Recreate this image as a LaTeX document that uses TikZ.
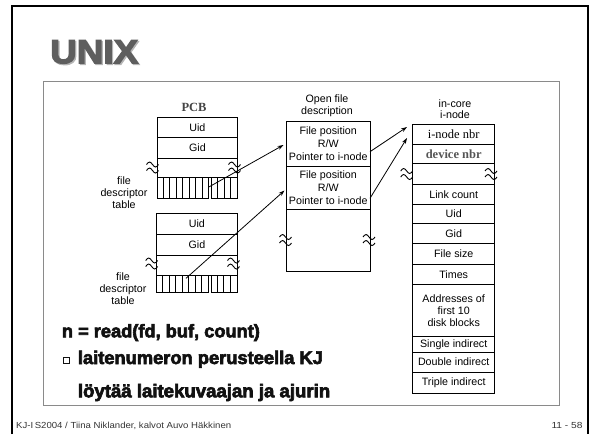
\documentclass[tikz,border=0pt]{standalone}
\usepackage{fontspec}
\setmainfont{Liberation Sans}
\newfontfamily\serifface{Liberation Serif}
\newfontfamily\heavyface[FakeBold=3.5]{Liberation Sans Bold}
\usetikzlibrary{arrows.meta}
\definecolor{titlegray}{HTML}{5E5E5E}
\definecolor{shadowgray}{HTML}{B5B5B5}
\definecolor{framegray}{HTML}{8A8A8A}
\definecolor{devgray}{HTML}{555555}
\definecolor{pcbgray}{HTML}{444444}
\definecolor{footgray}{HTML}{333333}
\definecolor{textdark}{HTML}{111111}
\tikzset{
  wv/.pic={
    \draw[line width=0.9pt] (-6,-3) sin (-3,-5.5) cos (0,-3) sin (3,-0.5) cos (6,-3);
    \draw[line width=0.9pt] (-6,3) sin (-3,0.5) cos (0,3) sin (3,5.5) cos (6,3);
  },
  box/.style={draw, line width=0.8pt, inner sep=0pt, anchor=north west, align=center,
    font=\fontsize{10.7}{12.8}\selectfont},
  lbl/.style={inner sep=0pt, align=center, font=\fontsize{10.7}{12}\selectfont},
  ptr/.style={line width=0.8pt, -{Stealth[length=6pt,width=4pt]}},
  cellline/.style={line width=0.7pt},
  big/.style={inner sep=0pt, anchor=base west, text=textdark, font=\heavyface\fontsize{18.2}{20}\selectfont}
}
\begin{document}
\begin{tikzpicture}[x=1pt,y=-1pt]
\useasboundingbox (0,0) rectangle (593,434);
% slide frames
\draw[line width=2pt] (11.5,434) -- (11.5,6) -- (587.7,6) -- (587.7,434);
\draw[framegray, line width=0.9pt] (43.3,81) rectangle (559,405.7);
% title
\node[anchor=north west, inner sep=0pt, text=shadowgray] (titsh) at (51.3,41.3) {\resizebox{88pt}{23pt}{\heavyface UNIX}};
\node[anchor=north west, inner sep=0pt, text=titlegray] (title) at (50,40) {\resizebox{88pt}{23pt}{\heavyface UNIX}};

% PCB 1
\node[inner sep=0pt, text=pcbgray, font=\serifface\bfseries\fontsize{12.5}{14}\selectfont] (pcb) at (194,107.7) {PCB};
\node[box, minimum width=80.6pt, minimum height=20pt] (uid1) at (156.7,117.3) {Uid};
\node[box, minimum width=80.6pt, minimum height=20.4pt] (gid1) at (156.7,137.3) {Gid};
\node[box, minimum width=80.6pt, minimum height=19.6pt] (gap1) at (156.7,157.7) {};
\node[box, minimum width=51.6pt, minimum height=21pt] (fdl1) at (156.7,177.3) {};
\node[box, minimum width=26.6pt, minimum height=21pt] (fdr1) at (210.7,177.3) {};
\foreach \i in {1,...,7} \draw[cellline] (156.7+\i*6.45,177.3) -- (156.7+\i*6.45,198.3);
\foreach \i in {1,...,3} \draw[cellline] (210.7+\i*6.65,177.3) -- (210.7+\i*6.65,198.3);
\pic at (152.5,167.5) {wv};
\pic at (234.5,167.5) {wv};
\node[lbl] (fdt1) at (124,192.3) {file\\descriptor\\table};

% PCB 2
\node[box, minimum width=80.6pt, minimum height=21pt] (uid2) at (156.2,213) {Uid};
\node[box, minimum width=80.6pt, minimum height=20.5pt] (gid2) at (156.2,234) {Gid};
\node[box, minimum width=80.6pt, minimum height=20.5pt] (gap2) at (156.2,254.5) {};
\node[box, minimum width=51.8pt, minimum height=16.7pt] (fdl2) at (156.2,275) {};
\node[box, minimum width=26.2pt, minimum height=16.7pt] (fdr2) at (210.6,275) {};
\foreach \i in {1,...,7} \draw[cellline] (156.2+\i*6.475,275) -- (156.2+\i*6.475,291.7);
\foreach \i in {1,...,3} \draw[cellline] (210.6+\i*6.55,275) -- (210.6+\i*6.55,291.7);
\pic at (151.7,263.5) {wv};
\pic at (233.5,263.5) {wv};
\node[lbl] (fdt2) at (123,288.3) {file\\descriptor\\table};

% Open file description
\node[lbl, font=\fontsize{10.7}{11.8}\selectfont] (oflbl) at (327,106) {Open file\\description};
\node[box, minimum width=84.3pt, minimum height=45pt] (of1) at (285.7,120.7) {File position\\R/W\\Pointer to i-node};
\node[box, minimum width=84.3pt, minimum height=43.6pt] (of2) at (285.7,165.7) {File position\\R/W\\Pointer to i-node};
\node[box, minimum width=84.3pt, minimum height=61.7pt] (of3) at (285.7,209.3) {};
\pic at (285.5,240) {wv};
\pic at (369,240) {wv};

% in-core i-node
\node[lbl, font=\fontsize{10.7}{11}\selectfont] (inlbl) at (455,108.8) {in-core\\i-node};
\node[box, minimum width=82pt, minimum height=20pt, font=\serifface\fontsize{12.5}{14}\selectfont] (in1) at (412.3,124.3) {i-node nbr};
\node[box, minimum width=82pt, minimum height=19pt, text=devgray, font=\serifface\bfseries\fontsize{12.5}{14}\selectfont] (in2) at (412.3,144.3) {device nbr};
\node[box, minimum width=82pt, minimum height=20.7pt] (in3) at (412.3,163.3) {};
\node[box, minimum width=82pt, minimum height=20pt] (in4) at (412.3,184) {Link count};
\node[box, minimum width=82pt, minimum height=19.3pt] (in5) at (412.3,204) {Uid};
\node[box, minimum width=82pt, minimum height=20pt] (in6) at (412.3,223.3) {Gid};
\node[box, minimum width=82pt, minimum height=20.7pt] (in7) at (412.3,243.3) {File size};
\node[box, minimum width=82pt, minimum height=20.3pt] (in8) at (412.3,264) {Times};
\node[box, minimum width=82pt, minimum height=51.7pt, font=\fontsize{10.7}{12.3}\selectfont] (in9) at (412.3,284.3) {Addresses of\\first 10\\disk blocks};
\node[box, minimum width=82pt, minimum height=15.7pt] (in10) at (412.3,336) {Single indirect};
\node[box, minimum width=82pt, minimum height=20pt] (in11) at (412.3,351.7) {Double indirect};
\node[box, minimum width=82pt, minimum height=21.6pt] (in12) at (412.3,371.7) {Triple indirect};
\pic at (406.7,174) {wv};
\pic at (491,174) {wv};

% pointers
\coordinate (a1s) at (208.3,187.3);
\coordinate (a1e) at (283.5,145);
\coordinate (a2s) at (186,278.3);
\coordinate (a2e) at (284.5,190.5);
\coordinate (a3s) at (370,151.7);
\coordinate (a3e) at (407,127);
\coordinate (a4s) at (370,198.3);
\coordinate (a4e) at (407,138);
\draw[ptr] (a1s) -- (a1e);
\draw[ptr] (a2s) -- (a2e);
\draw[ptr] (a3s) -- (a3e);
\draw[ptr] (a4s) -- (a4e);

% bottom text
\node[big] (rd) at (61.7,337.3) {\resizebox{198pt}{!}{n = read(fd, buf, count)}};
\draw[line width=0.6pt, textdark] (62.9,357.7) rectangle (68.9,363);
\node[big] (l1) at (77.7,364) {\resizebox{245pt}{!}{laitenumeron perusteella KJ}};
\node[big] (l2) at (77.7,397.3) {\resizebox{252.3pt}{!}{löytää laitekuvaajan ja ajurin}};

% footer
\node[anchor=base west, inner sep=0pt, text=footgray, font=\fontsize{8.8}{10}\selectfont] (ft) at (16,428) {\resizebox{215pt}{\height}{KJ-I\,S2004 / Tiina Niklander, kalvot Auvo Häkkinen}};
\node[anchor=base east, inner sep=0pt, text=footgray, font=\fontsize{8.8}{10}\selectfont] (pg) at (582.7,428) {\resizebox{31pt}{\height}{11 - 58}};
\end{tikzpicture}
\end{document}
